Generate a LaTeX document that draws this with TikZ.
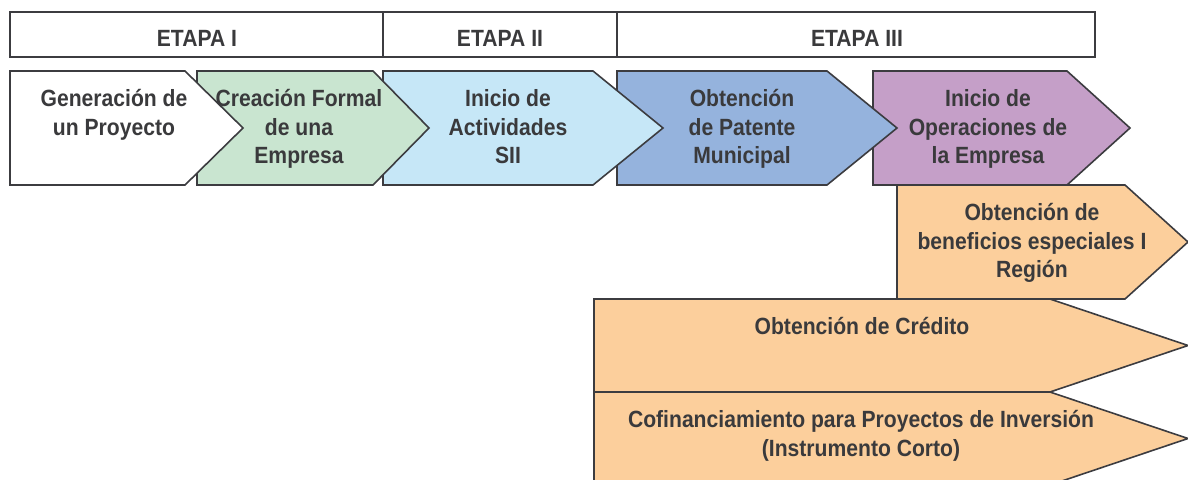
\documentclass[tikz,border=0pt]{standalone}
\usepackage{fontspec}
\setmainfont{Liberation Sans}[FakeStretch=0.9]
\definecolor{txt}{HTML}{3A3A3C}
\definecolor{edge}{HTML}{3C3C40}
\definecolor{cgreen}{HTML}{C9E5D0}
\definecolor{clblue}{HTML}{C6E7F7}
\definecolor{cblue}{HTML}{95B3DD}
\definecolor{cpurple}{HTML}{C59FC8}
\definecolor{corange}{HTML}{FCCF9C}
\newcommand\lbfont{\fontsize{17.6pt}{21.6pt}\selectfont\bfseries}
\newcommand\fl{\rule{0pt}{18pt}}
\tikzset{
  shp/.style={draw=edge, line width=1.2pt, line join=miter},
  bar/.style={draw=edge, line width=1.2pt, fill=white},
  lbl/.style={font=\lbfont, text=txt, align=center, inner sep=0pt, anchor=north}
}
\begin{document}
\begin{tikzpicture}[x=0.75pt,y=-0.75pt]
\useasboundingbox (0,0) rectangle (1188,479);
\clip (0,0) rectangle (1188,479);
% top bar
\draw[bar] (10,12) rectangle (383,57);
\draw[bar] (383,12) rectangle (617,57);
\draw[bar] (617,12) rectangle (1095,57);
\node[lbl] (e1) at (197,22.5) {\fl ETAPA I};
\node[lbl] (e2) at (500,22.5) {\fl ETAPA II};
\node[lbl] (e3) at (857,22.5) {\fl ETAPA III};
% orange arrows
\draw[shp, fill=corange] (594,392) -- (1050,392) -- (1188,438.5) -- (1050,485) -- (594,485) -- cycle;
\draw[shp, fill=corange] (594,299) -- (1050,299) -- (1188,345.5) -- (1050,392) -- (594,392) -- cycle;
\draw[shp, fill=corange] (897,185) -- (1125,185) -- (1188,242) -- (1125,299) -- (897,299) -- cycle;
% main chevrons, right to left
\draw[shp, fill=cpurple] (873,71) -- (1067,71) -- (1130,128) -- (1067,185) -- (873,185) -- cycle;
\draw[shp, fill=cblue] (617,71) -- (827,71) -- (897,128) -- (827,185) -- (617,185) -- cycle;
\draw[shp, fill=clblue] (383,71) -- (593,71) -- (663,128) -- (593,185) -- (383,185) -- cycle;
\draw[shp, fill=cgreen] (197,71) -- (373,71) -- (429,128) -- (373,185) -- (197,185) -- cycle;
\draw[shp, fill=white] (10,71) -- (185,71) -- (243,128) -- (185,185) -- (10,185) -- cycle;
% texts
\node[lbl] (t1) at (114,82) {\fl Generación de\\un Proyecto};
\node[lbl] (t2) at (299,82) {\fl Creación Formal\\de una\\Empresa};
\node[lbl] (t3) at (508,82) {\fl Inicio de\\Actividades\\SII};
\node[lbl] (t4) at (742,82) {\fl Obtención\\de Patente\\Municipal};
\node[lbl] (t5) at (988,82) {\fl Inicio de\\Operaciones de\\la Empresa};
\node[lbl] (t6) at (1032,196) {\fl Obtención de\\beneficios especiales I\\Región};
\node[lbl] (t7) at (862,310) {\fl Obtención de Crédito};
\node[lbl] (t8) at (861,403) {\fl Cofinanciamiento para Proyectos de Inversión\\(Instrumento Corto)};
\end{tikzpicture}
\end{document}
